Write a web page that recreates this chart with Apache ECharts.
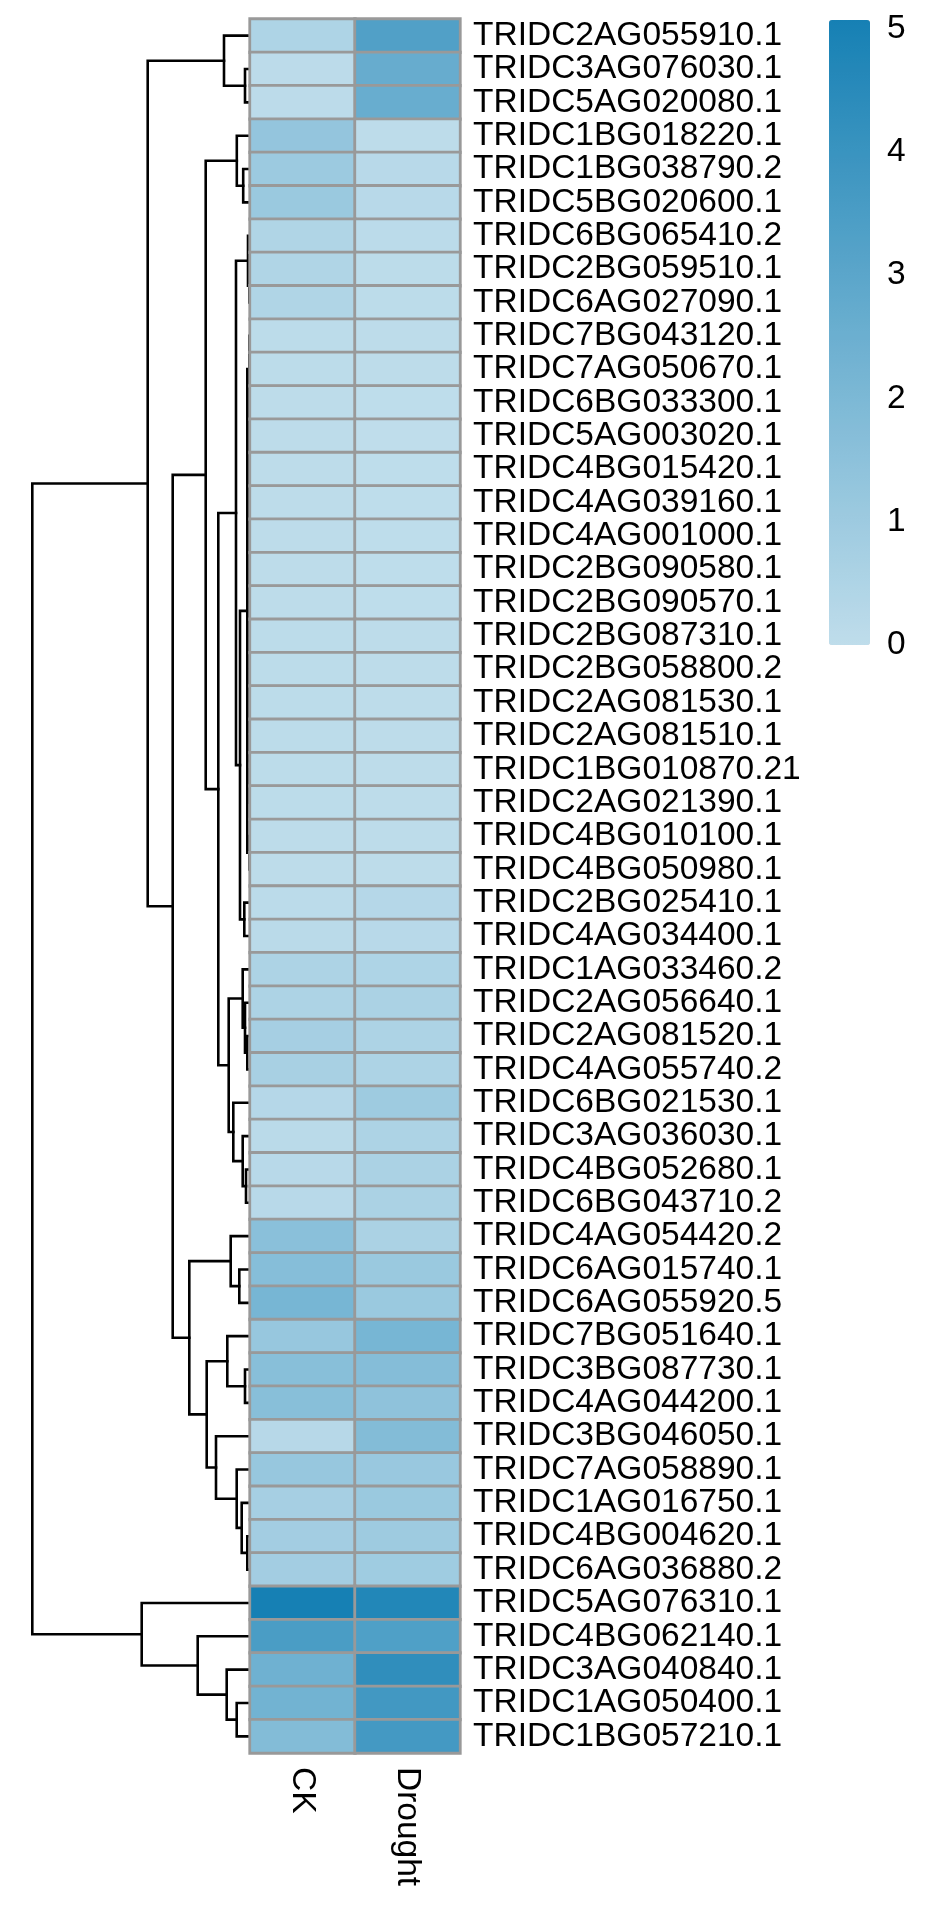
<!DOCTYPE html>
<html>
<head>
<meta charset="utf-8">
<script src="https://cdn.jsdelivr.net/npm/echarts@6/dist/echarts.min.js"></script>
<style>
html,body{margin:0;padding:0;background:#ffffff;}
#chart{width:948px;height:1914px;}
</style>
</head>
<body>
<div id="chart"></div>
<script>
// ---------------- data ----------------
const genes = [
  'TRIDC2AG055910.1','TRIDC3AG076030.1','TRIDC5AG020080.1','TRIDC1BG018220.1','TRIDC1BG038790.2',
  'TRIDC5BG020600.1','TRIDC6BG065410.2','TRIDC2BG059510.1','TRIDC6AG027090.1','TRIDC7BG043120.1',
  'TRIDC7AG050670.1','TRIDC6BG033300.1','TRIDC5AG003020.1','TRIDC4BG015420.1','TRIDC4AG039160.1',
  'TRIDC4AG001000.1','TRIDC2BG090580.1','TRIDC2BG090570.1','TRIDC2BG087310.1','TRIDC2BG058800.2',
  'TRIDC2AG081530.1','TRIDC2AG081510.1','TRIDC1BG010870.21','TRIDC2AG021390.1','TRIDC4BG010100.1',
  'TRIDC4BG050980.1','TRIDC2BG025410.1','TRIDC4AG034400.1','TRIDC1AG033460.2','TRIDC2AG056640.1',
  'TRIDC2AG081520.1','TRIDC4AG055740.2','TRIDC6BG021530.1','TRIDC3AG036030.1','TRIDC4BG052680.1',
  'TRIDC6BG043710.2','TRIDC4AG054420.2','TRIDC6AG015740.1','TRIDC6AG055920.5','TRIDC7BG051640.1',
  'TRIDC3BG087730.1','TRIDC4AG044200.1','TRIDC3BG046050.1','TRIDC7AG058890.1','TRIDC1AG016750.1',
  'TRIDC4BG004620.1','TRIDC6AG036880.2','TRIDC5AG076310.1','TRIDC4BG062140.1','TRIDC3AG040840.1',
  'TRIDC1AG050400.1','TRIDC1BG057210.1'
];
const conditions = ['CK', 'Drought'];
const ckValues = [
  0.50, 0.10, 0.10, 1.30, 1.05, 1.10, 0.45, 0.45, 0.45, 0.08,
  0.08, 0.06, 0.06, 0.06, 0.06, 0.06, 0.06, 0.06, 0.08, 0.08,
  0.08, 0.08, 0.08, 0.08, 0.06, 0.06, 0.12, 0.15, 0.55, 0.55,
  0.75, 0.70, 0.30, 0.15, 0.20, 0.20, 1.60, 1.70, 2.15, 1.20,
  1.65, 1.65, 0.25, 1.20, 0.75, 0.85, 0.85, 5.07, 3.50, 2.40,
  2.30, 1.80
];
const droughtValues = [
  3.30, 2.65, 2.60, 0.05, 0.20, 0.20, 0.12, 0.08, 0.08, 0.05,
  0.05, 0.02, 0.00, 0.02, 0.02, 0.02, 0.02, 0.02, 0.05, 0.05,
  0.05, 0.05, 0.05, 0.05, 0.05, 0.05, 0.30, 0.20, 0.50, 0.60,
  0.55, 0.55, 1.00, 0.55, 0.60, 0.60, 0.60, 1.10, 1.10, 2.15,
  1.75, 1.45, 1.80, 1.15, 1.10, 1.00, 0.95, 4.70, 3.35, 4.30,
  3.75, 3.70
];
// hclust-style merges: [left, right, height]; negative = leaf -(row+1), positive = earlier merge (1-based)
const merges = [
  [-2, -3, 0.125], [-1, 1, 0.65], [-5, -6, 0.17], [-4, 3, 0.33],
  [-8, -9, 0.018], [-7, 5, 0.05],
  [-23, -24, 0.003], [-22, 7, 0.004], [-21, 8, 0.005], [-20, 9, 0.006],
  [-19, 10, 0.007], [-18, 11, 0.008], [-17, 12, 0.009], [-16, 13, 0.010],
  [-15, 14, 0.011], [-14, 15, 0.012], [-13, 16, 0.013], [-12, 17, 0.014],
  [-11, 18, 0.015], [-10, 19, 0.016],
  [-25, -26, 0.0125], [20, 21, 0.0675], [-27, -28, 0.1425], [22, 23, 0.25],
  [6, 24, 0.35],
  [-31, -32, 0.0675], [-30, 26, 0.125], [-29, 27, 0.1825],
  [-35, -36, 0.10], [-34, 29, 0.1825], [-33, 30, 0.4175],
  [28, 31, 0.5325], [25, 32, 0.7925], [4, 33, 1.1075],
  [-38, -39, 0.2675], [-37, 35, 0.4825],
  [-41, -42, 0.125], [-40, 37, 0.5675],
  [-46, -47, 0.0675], [-45, 39, 0.2075], [-44, 40, 0.3325], [-43, 41, 0.85],
  [38, 42, 1.0825], [36, 43, 1.5175], [34, 44, 1.9325], [2, 45, 2.5575],
  [-51, -52, 0.3325], [-50, 47, 0.5825], [-49, 48, 1.3075], [-48, 49, 2.7075],
  [46, 50, 5.4425]
];
const legendTicks = [0, 1, 2, 3, 4, 5];
const valueMin = 0, valueMax = 5.07;

// ---------------- build ----------------
const heatData = [];
genes.forEach((g, i) => {
  heatData.push([0, i, ckValues[i]]);
  heatData.push([1, i, droughtValues[i]]);
});

const nodeY = [];
const segs = [];
function ref(r) {
  return r < 0 ? { h: 0, y: -r - 1 } : { h: merges[r - 1][2], y: nodeY[r - 1] };
}
merges.forEach(([a, b, h], k) => {
  const A = ref(a), B = ref(b);
  nodeY[k] = (A.y + B.y) / 2;
  segs.push({ coords: [[A.h, A.y], [h, A.y], [h, B.y], [B.h, B.y]] });
});

const FONT = "'Liberation Sans', Arial, Helvetica, sans-serif";
const FS = 33.5;

const chart = echarts.init(document.getElementById('chart'), null, { renderer: 'canvas' });
chart.setOption({
  animation: false,
  backgroundColor: '#ffffff',
  textStyle: { fontFamily: FONT },
  grid: [
    { left: 250, top: 19, width: 210, height: 1734 },
    { left: 32, top: 19, width: 218, height: 1734 },
    { left: 829, top: 20, width: 41, height: 625 }
  ],
  xAxis: [
    {
      type: 'category', gridIndex: 0, data: conditions, position: 'bottom',
      axisLine: { show: false }, axisTick: { show: false }, splitLine: { show: false },
      axisLabel: { rotate: -90, margin: 14, fontSize: FS, color: '#000', fontFamily: FONT }
    },
    { type: 'value', gridIndex: 1, min: 0, max: 5.45, inverse: true, show: false },
    { type: 'value', gridIndex: 2, min: 0, max: 1, show: false }
  ],
  yAxis: [
    {
      type: 'category', gridIndex: 0, data: genes, inverse: true, position: 'right',
      axisLine: { show: false }, axisTick: { show: false }, splitLine: { show: false },
      axisLabel: { margin: 13, fontSize: FS, color: '#000', fontFamily: FONT, interval: 0, padding: [4, 0, 0, 0] }
    },
    { type: 'value', gridIndex: 1, min: -0.5, max: genes.length - 0.5, inverse: true, show: false },
    {
      type: 'value', gridIndex: 2, min: valueMin, max: valueMax, interval: 1, position: 'right',
      axisLine: { show: false }, axisTick: { show: false }, splitLine: { show: false },
      axisLabel: {
        margin: 17, fontSize: FS, color: '#000', fontFamily: FONT,
        formatter: v => (legendTicks.indexOf(Math.round(v * 1000) / 1000) >= 0 ? String(v) : '')
      }
    }
  ],
  visualMap: {
    type: 'continuous', seriesIndex: 0, min: valueMin, max: valueMax,
    orient: 'vertical', left: 829, top: 20, itemWidth: 41, itemHeight: 625,
    padding: 0, calculable: false, hoverLink: false, text: null,
    inRange: { color: ['#BFDDEB', '#1680B4'] }
  },
  series: [
    {
      type: 'heatmap', xAxisIndex: 0, yAxisIndex: 0, data: heatData, z: 3,
      itemStyle: { borderColor: '#999999', borderWidth: 2.8 },
      emphasis: { disabled: true }, silent: true
    },
    {
      type: 'lines', coordinateSystem: 'cartesian2d', xAxisIndex: 1, yAxisIndex: 1,
      polyline: true, data: segs, z: 2, silent: true,
      lineStyle: { color: '#000000', width: 2.6, opacity: 1, cap: 'square', join: 'miter' }
    },
    { type: 'scatter', xAxisIndex: 2, yAxisIndex: 2, data: [], silent: true }
  ]
});
</script>
</body>
</html>
